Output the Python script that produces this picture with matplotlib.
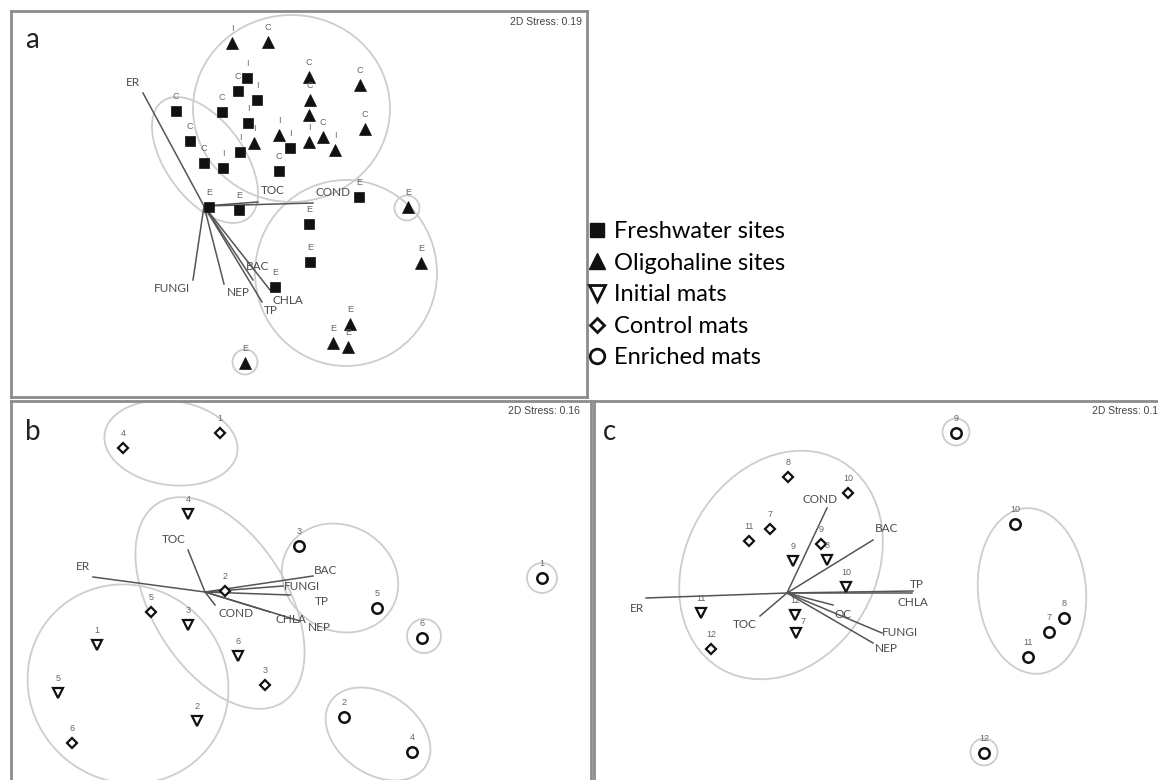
import matplotlib.pyplot as plt
from matplotlib.patches import Ellipse
from matplotlib.lines import Line2D

W, H = 1158, 780
SCALE = 100.0  # pixels per MDS unit

TEXT_FONT = ['Lato', 'DejaVu Sans']
NUM_FONT = ['Liberation Sans', 'DejaVu Sans']
INK = '#111111'
LABEL_GREY = '#666666'
VECTOR_GREY = '#555555'
HULL_GREY = '#cdcdcd'

# ---------------- panel a: field sites ----------------
fw_x = [0.43, 0.34, 0.53, -0.28, 0.18, 0.44, -0.14, 0.36, 0.86, 0.00, 0.19, 0.75,
        0.05, 0.35, 1.55, 1.05, 1.06, 0.71]
fw_y = [1.28, 1.15, 1.06, 0.95, 0.94, 0.83, 0.65, 0.54, 0.58, 0.43, 0.38, 0.35,
        -0.01, -0.04, 0.09, -0.18, -0.56, -0.81]
fw_lab = ['I', 'C', 'I', 'C', 'C', 'I', 'C', 'I', 'I', 'C', 'I', 'C',
          'E', 'E', 'E', 'E', 'E', 'E']

ol_x = [0.28, 0.64, 1.05, 1.06, 1.05, 1.56, 1.61, 1.19, 1.05, 1.31, 0.75, 0.50,
        2.04, 2.17, 1.46, 1.29, 1.44, 0.41]
ol_y = [1.63, 1.64, 1.29, 1.06, 0.91, 1.21, 0.77, 0.69, 0.64, 0.56, 0.71, 0.63,
        -0.01, -0.57, -1.18, -1.37, -1.41, -1.57]
ol_lab = ['I', 'C', 'C', 'C', '', 'C', 'C', 'C', 'I', 'I', 'I', 'I',
          'E', 'E', 'E', 'E', 'E', 'E']

a_vec = ['ER', 'TOC', 'COND', 'FUNGI', 'NEP', 'BAC', 'CHLA', 'TP']
a_vec_x = [-0.61, 0.54, 1.09, -0.11, 0.20, 0.49, 0.66, 0.58]
a_vec_y = [1.13, 0.04, 0.03, -0.74, -0.78, -0.74, -0.84, -0.96]
a_lab_x = [-0.71, 0.69, 1.29, -0.32, 0.34, 0.54, 0.84, 0.67]
a_lab_y = [1.23, 0.15, 0.13, -0.83, -0.87, -0.60, -0.94, -1.04]

a_ell_x = [0.875, 0.01, 1.42, 2.03, 0.41]
a_ell_y = [0.975, 0.46, -0.67, -0.02, -1.56]
a_ell_w = [1.97, 1.45, 1.82, 0.25, 0.25]
a_ell_h = [1.87, 0.78, 1.86, 0.25, 0.25]
a_ell_ang = [0, -54, 0, 0, 0]

# ---------------- panel b: mats, first run ----------------
b_init_x = [-0.17, -0.17, -1.08, 0.33, -1.47, -0.08]
b_init_y = [0.78, -0.33, -0.53, -0.64, -1.01, -1.29]
b_init_lab = ['4', '3', '1', '6', '5', '2']
b_ctrl_x = [-0.82, 0.15, 0.20, -0.54, 0.60, -1.33]
b_ctrl_y = [1.44, 1.59, 0.01, -0.20, -0.93, -1.51]
b_ctrl_lab = ['4', '1', '2', '5', '3', '6']
b_enr_x = [0.94, 3.37, 1.72, 2.17, 1.39, 2.07]
b_enr_y = [0.46, 0.14, -0.16, -0.46, -1.25, -1.60]
b_enr_lab = ['3', '1', '5', '6', '2', '4']

b_vec = ['ER', 'TOC', 'BAC', 'FUNGI', 'TP', 'CHLA', 'NEP', 'COND']
b_vec_x = [-1.12, -0.17, 1.08, 0.78, 0.85, 0.65, 0.95, 0.10]
b_vec_y = [0.15, 0.42, 0.16, 0.06, -0.03, -0.20, -0.29, -0.13]
b_lab_x = [-1.22, -0.31, 1.21, 0.97, 1.17, 0.86, 1.14, 0.31]
b_lab_y = [0.25, 0.52, 0.21, 0.05, -0.10, -0.28, -0.36, -0.22]

b_ell_x = [-0.34, 0.15, -0.77, 1.35, 1.73, 3.37, 2.19]
b_ell_y = [1.49, -0.11, -0.92, 0.14, -1.42, 0.14, -0.44]
b_ell_w = [1.34, 2.35, 2.05, 1.20, 1.15, 0.30, 0.34]
b_ell_h = [0.84, 1.35, 1.95, 1.05, 0.80, 0.30, 0.34]
b_ell_ang = [-8, -58, -40, -30, -35, 0, 0]

# ---------------- panel c: mats, second run ----------------
c_init_x = [0.06, 0.40, 0.59, -0.86, 0.08, 0.09]
c_init_y = [0.32, 0.33, 0.06, -0.20, -0.22, -0.40]
c_init_lab = ['9', '8', '10', '11', '12', '7']
c_ctrl_x = [0.01, 0.61, -0.17, -0.38, 0.34, -0.76]
c_ctrl_y = [1.16, 1.00, 0.64, 0.52, 0.49, -0.56]
c_ctrl_lab = ['8', '10', '7', '11', '9', '12']
c_enr_x = [1.69, 2.28, 2.77, 2.62, 2.41, 1.97]
c_enr_y = [1.60, 0.69, -0.25, -0.39, -0.64, -1.60]
c_enr_lab = ['9', '10', '8', '7', '11', '12']

c_vec = ['ER', 'COND', 'BAC', 'TP', 'CHLA', 'OC', 'FUNGI', 'NEP', 'TOC']
c_vec_x = [-1.41, 0.40, 0.86, 1.26, 1.25, 0.46, 0.95, 0.86, -0.27]
c_vec_y = [-0.05, 0.85, 0.53, 0.02, 0.00, -0.12, -0.40, -0.50, -0.23]
c_lab_x = [-1.50, 0.33, 1.00, 1.30, 1.26, 0.56, 1.13, 0.99, -0.42]
c_lab_y = [-0.15, 0.93, 0.64, 0.08, -0.09, -0.21, -0.39, -0.55, -0.32]

c_ell_x = [-0.06, 2.45, 1.69, 1.97]
c_ell_y = [0.28, 0.02, 1.61, -1.59]
c_ell_w = [2.40, 1.66, 0.27, 0.27]
c_ell_h = [1.90, 1.08, 0.27, 0.27]
c_ell_ang = [60, 95, 0, 0]

legend_labels = ['Freshwater sites', 'Oligohaline sites', 'Initial mats',
                 'Control mats', 'Enriched mats']

# marker styles
SQUARE = dict(marker='s', ms=7.5, mfc=INK, mec=INK, mew=0.5)
TRI_UP = dict(marker='^', ms=8.5, mfc=INK, mec=INK, mew=0.5)
TRI_DOWN = dict(marker='v', ms=7.5, mfc='white', mec=INK, mew=1.6)
DIAMOND = dict(marker='D', ms=5.3, mfc='white', mec=INK, mew=1.6)
CIRCLE = dict(marker='o', ms=7.5, mfc='white', mec=INK, mew=1.8)


def make_panel(box, origin, letter, letter_pos, stress_inset):
    # box is (left, top, right, bottom) in figure pixels; origin is where MDS (0, 0) sits
    l, t, r, b = box
    ox, oy = origin
    ax = fig.add_axes([l / W, 1 - b / H, (r - l) / W, (b - t) / H])
    ax.set_xlim((l - ox) / SCALE, (r - ox) / SCALE)
    ax.set_ylim((oy - b) / SCALE, (oy - t) / SCALE)
    ax.set_xticks([])
    ax.set_yticks([])
    for sp in ax.spines.values():
        sp.set_color('#8c8c8c')
        sp.set_linewidth(2.0)
    lx, ly = letter_pos
    ax.text((lx - l) / (r - l), 1 - (ly - t) / (b - t), letter, transform=ax.transAxes,
            ha='left', va='baseline', fontsize=20, family=TEXT_FONT, color='#222222')
    sx, sy = stress_inset
    ax.text(1 - sx / (r - l), 1 - sy / (b - t), stress_text[letter], transform=ax.transAxes,
            ha='right', va='center', fontsize=7.5, family=NUM_FONT, color='#444444')
    return ax


def draw_groups(ax, cx, cy, w, h, ang):
    for x, y, ew, eh, a in zip(cx, cy, w, h, ang):
        ax.add_patch(Ellipse((x, y), ew, eh, angle=a, fill=False,
                             edgecolor=HULL_GREY, lw=1.3, zorder=1))


def draw_vectors(ax, names, vx, vy, lx, ly):
    for name, x, y, tx, ty in zip(names, vx, vy, lx, ly):
        ax.plot([0, x], [0, y], color=VECTOR_GREY, lw=1.1, zorder=2)
        ax.text(tx, ty, name, ha='center', va='center', fontsize=8.5,
                family=TEXT_FONT, color='#4a4a4a', zorder=4)


def draw_points(ax, x, y, labels, style, nudge=None):
    ax.plot(x, y, ls='none', zorder=3, **style)
    nudge = nudge or {}
    for i, (px, py, lab) in enumerate(zip(x, y, labels)):
        if not lab:
            continue
        dx, dy = nudge.get(i, (0, 10.5))
        ax.annotate(lab, (px, py), xytext=(dx, dy), textcoords='offset points',
                    ha='center', va='center', fontsize=6.5, family=NUM_FONT,
                    color=LABEL_GREY, zorder=4)


stress_text = {'a': '2D Stress: 0.19', 'b': '2D Stress: 0.16', 'c': '2D Stress: 0.16'}

fig = plt.figure(figsize=(W / 100, H / 100), dpi=100)

# panel a
ax_a = make_panel((11, 11, 587, 397), (204, 206), 'a', (25, 48), (5, 11))
draw_groups(ax_a, a_ell_x, a_ell_y, a_ell_w, a_ell_h, a_ell_ang)
draw_vectors(ax_a, a_vec, a_vec_x, a_vec_y, a_lab_x, a_lab_y)
draw_points(ax_a, fw_x, fw_y, fw_lab, SQUARE)
draw_points(ax_a, ol_x, ol_y, ol_lab, TRI_UP)

# panel b
ax_b = make_panel((11, 401, 591, 785), (205, 592), 'b', (25, 440), (11, 10))
draw_groups(ax_b, b_ell_x, b_ell_y, b_ell_w, b_ell_h, b_ell_ang)
draw_vectors(ax_b, b_vec, b_vec_x, b_vec_y, b_lab_x, b_lab_y)
draw_points(ax_b, b_init_x, b_init_y, b_init_lab, TRI_DOWN)
draw_points(ax_b, b_ctrl_x, b_ctrl_y, b_ctrl_lab, DIAMOND)
draw_points(ax_b, b_enr_x, b_enr_y, b_enr_lab, CIRCLE)

# panel c runs off the right edge of the figure
ax_c = make_panel((594, 401, 1172, 785), (787, 593), 'c', (603, 440), (8, 10))
draw_groups(ax_c, c_ell_x, c_ell_y, c_ell_w, c_ell_h, c_ell_ang)
draw_vectors(ax_c, c_vec, c_vec_x, c_vec_y, c_lab_x, c_lab_y)
draw_points(ax_c, c_init_x, c_init_y, c_init_lab, TRI_DOWN, nudge={5: (5, 8)})
draw_points(ax_c, c_ctrl_x, c_ctrl_y, c_ctrl_lab, DIAMOND)
draw_points(ax_c, c_enr_x, c_enr_y, c_enr_lab, CIRCLE)

# shared legend to the right of panel a
handles = [
    Line2D([], [], ls='none', marker='s', ms=10, color=INK),
    Line2D([], [], ls='none', marker='^', ms=12, color=INK),
    Line2D([], [], ls='none', marker='v', ms=11, mfc='white', mec=INK, mew=2),
    Line2D([], [], ls='none', marker='D', ms=7.5, mfc='white', mec=INK, mew=2),
    Line2D([], [], ls='none', marker='o', ms=10.5, mfc='white', mec=INK, mew=2),
]
fig.legend(handles, legend_labels, loc='upper left', bbox_to_anchor=(588 / W, 1 - 221 / H),
           frameon=False, prop=dict(family=TEXT_FONT, size=17), handlelength=0.75,
           handletextpad=0.35, labelspacing=0.45, borderpad=0, borderaxespad=0)

fig.savefig('out.png', dpi=100)
